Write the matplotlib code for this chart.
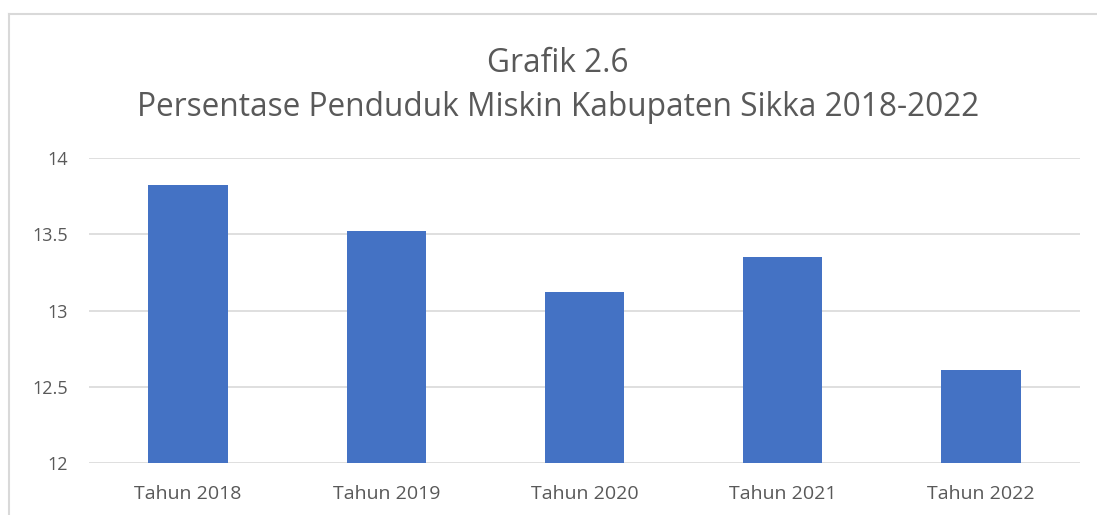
import matplotlib.pyplot as plt
from matplotlib.lines import Line2D

plt.rcParams['font.family'] = ['Open Sans', 'DejaVu Sans']

years = ["Tahun 2018", "Tahun 2019", "Tahun 2020", "Tahun 2021", "Tahun 2022"]
values = [13.82, 13.52, 13.12, 13.35, 12.61]
y_ticks = [12, 12.5, 13, 13.5, 14]
y_labels = ["12", "12.5", "13", "13.5", "14"]

fig = plt.figure(figsize=(10.97, 5.15), dpi=100)
ax = fig.add_axes([89 / 1097, 52 / 515, 991 / 1097, 305 / 515])

x = range(len(years))
ax.bar(x, values, width=0.4, color="#4472c4", zorder=3)
ax.set_xlim(-0.5, len(years) - 0.5)
ax.set_ylim(12, 14)
ax.set_yticks(y_ticks)
ax.set_yticklabels(y_labels)
ax.set_xticks(list(x))
ax.set_xticklabels(years)
ax.tick_params(axis="both", length=0, colors="#595959")
ax.tick_params(axis="x", pad=16, labelsize=14)
ax.tick_params(axis="y", pad=15, labelsize=13)
ax.grid(axis="y", color="#d9d9d9", linewidth=1.2, zorder=0)
for s in ax.spines.values():
    s.set_visible(False)

fig.text(558 / 1097, 1 - 63 / 515, "Grafik 2.6", ha="center", va="center",
         fontsize=22.8, color="#595959")
fig.text(558 / 1097, 1 - 107 / 515, "Persentase Penduduk Miskin Kabupaten Sikka 2018-2022",
         ha="center", va="center", fontsize=22.8, color="#595959")

# chart border (partly cropped)
fig.add_artist(Line2D([9 / 1097, 1], [1 - 14 / 515, 1 - 14 / 515], color="#d9d9d9", lw=1.5))
fig.add_artist(Line2D([9 / 1097, 9 / 1097], [0, 1 - 14 / 515], color="#d9d9d9", lw=1.5))

fig.savefig("out.png", dpi=100)
